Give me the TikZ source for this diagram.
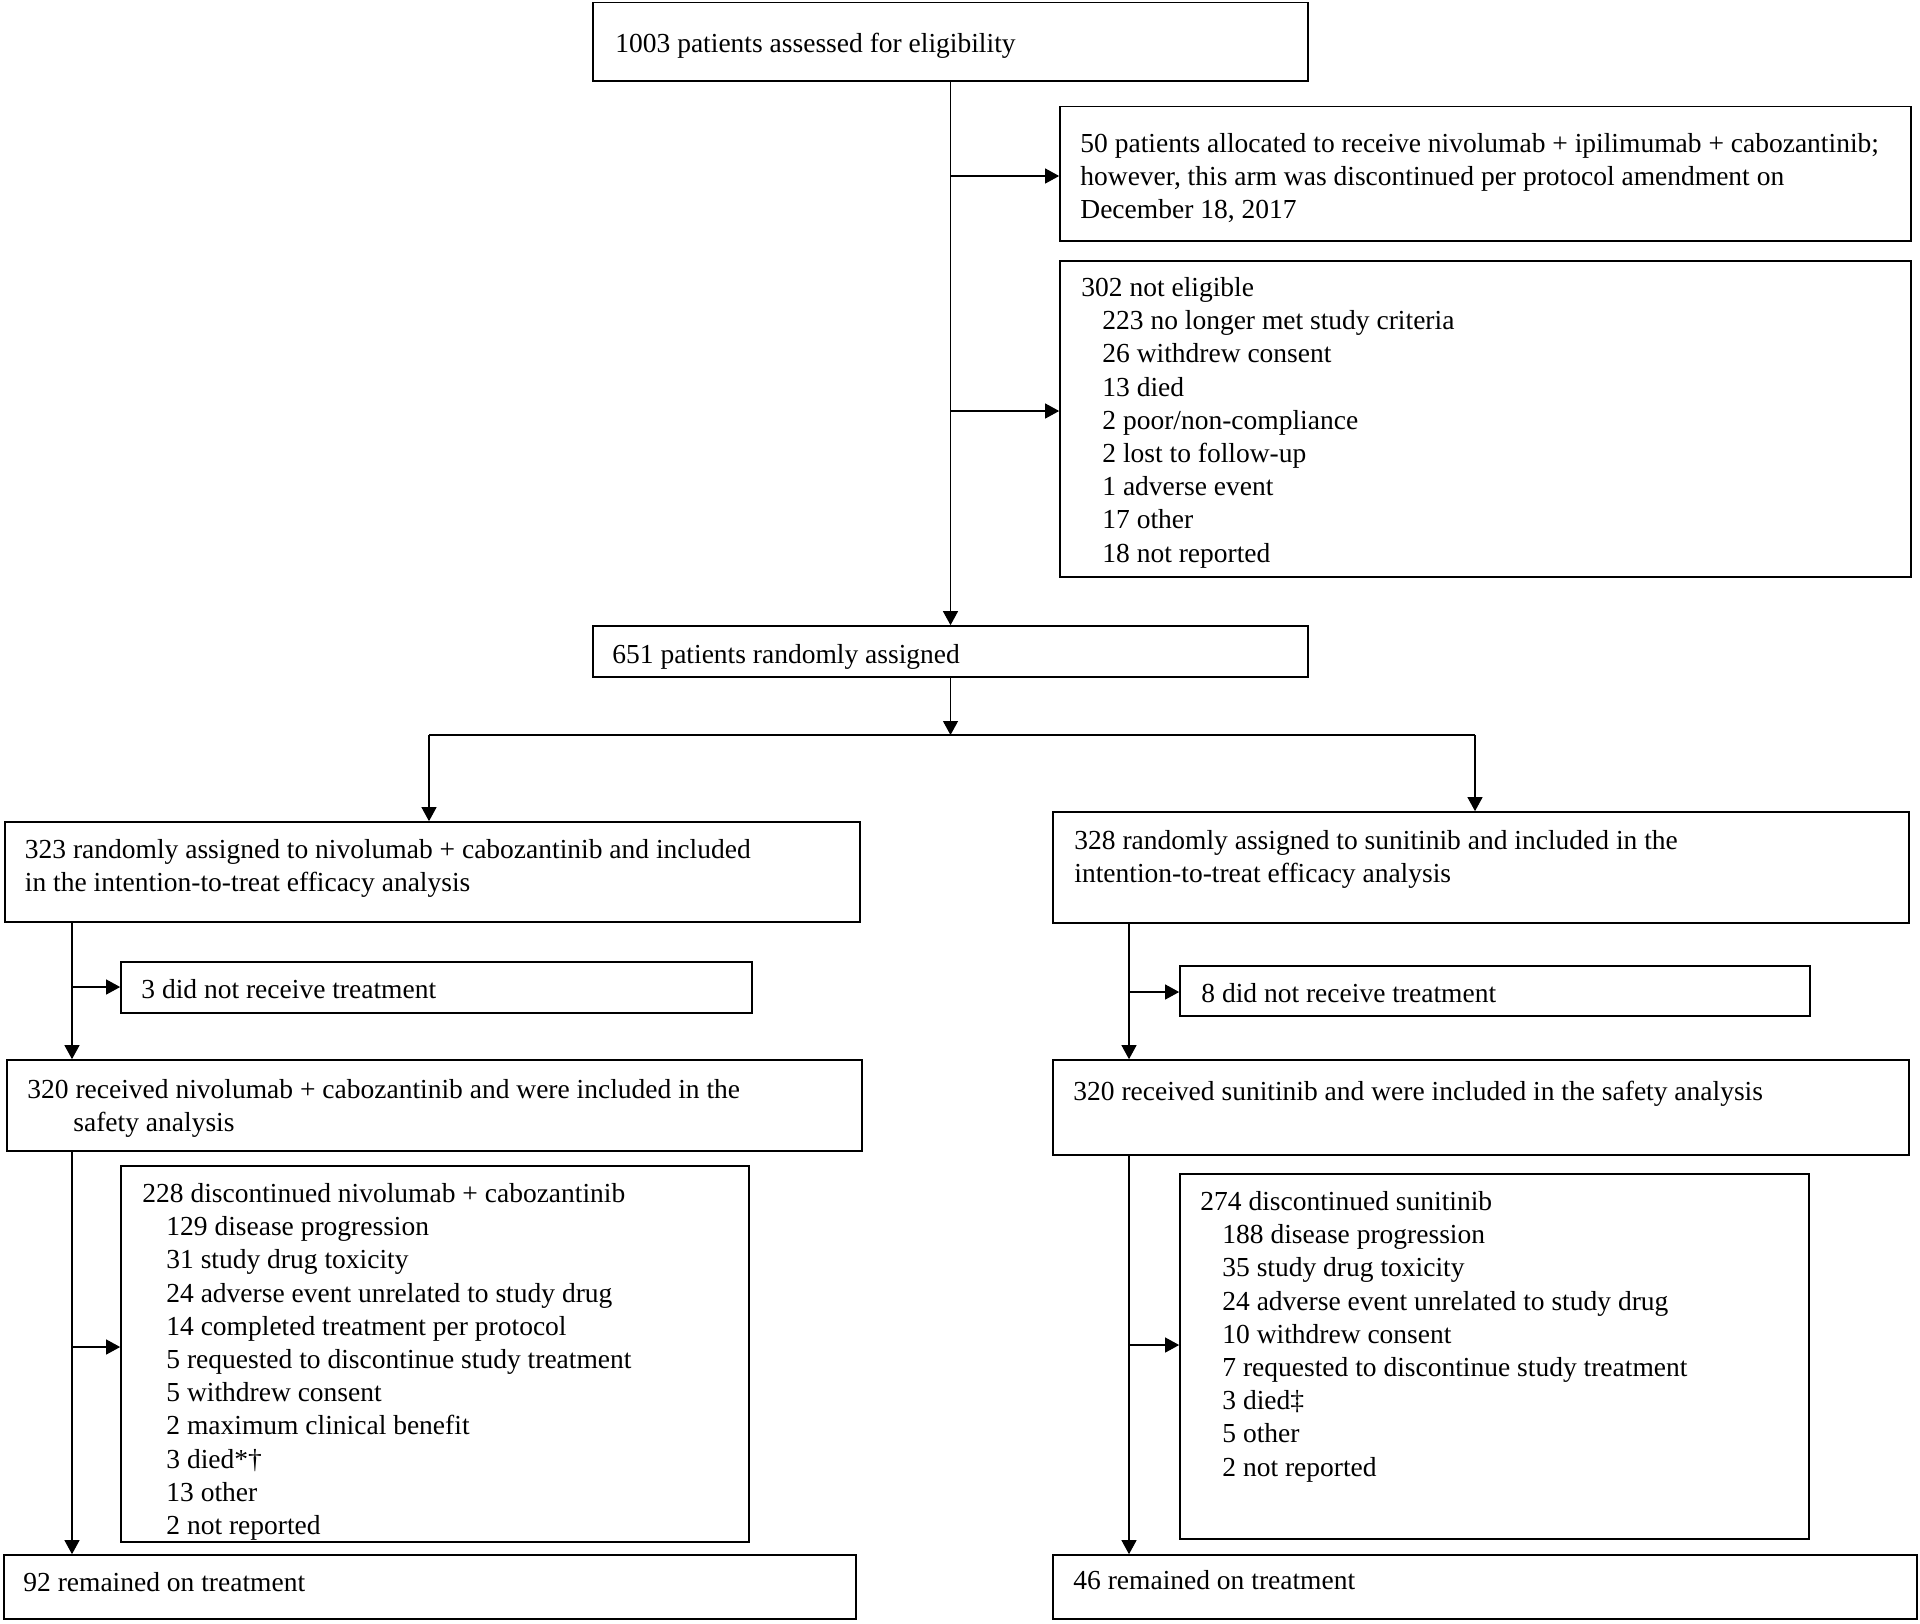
\documentclass[tikz,border=0pt]{standalone}
\usepackage{fontspec}
\setmainfont{Liberation Serif}
\usetikzlibrary{arrows.meta,fit}
\begin{document}
\begin{tikzpicture}[x=0.5pt,y=-0.5pt,
 box/.style={draw, line width=0.85pt, inner sep=0pt},
 txt/.style={inner sep=0pt, align=left, anchor=north west, font=\fontsize{13.75}{16.6}\selectfont},
 conn/.style={line width=0.55pt},
 arr/.style={conn, -{Triangle[width=7.5pt,length=7pt]}}]
\useasboundingbox (0,0) rectangle (1920,1623);

% boxes
\node[box, fit={(593,2.5) (1308,81)}] (tb) {};
\node[box, fit={(1060,106.5) (1911,241)}] (b50) {};
\node[box, fit={(1060,261) (1911,577)}] (b302) {};
\node[box, fit={(593,626) (1308,677)}] (b651) {};
\node[box, fit={(5,822) (860,922)}] (l323) {};
\node[box, fit={(1053,812) (1909,923)}] (r328) {};
\node[box, fit={(121,962) (752,1013)}] (l3) {};
\node[box, fit={(1180,966) (1810,1016)}] (r8) {};
\node[box, fit={(7,1060) (862,1151)}] (l320) {};
\node[box, fit={(1053,1060) (1909,1155)}] (r320) {};
\node[box, fit={(121,1166) (749,1542)}] (l228) {};
\node[box, fit={(1180,1174) (1809,1539)}] (r274) {};
\node[box, fit={(4,1555) (856,1619)}] (l92) {};
\node[box, fit={(1053,1555) (1917,1619)}] (r46) {};

% texts
\node[txt] (tbT) at (615,28.8) {\strut 1003 patients assessed for eligibility};
\node[txt] (b50T) at (1080,128.8) {\strut 50 patients allocated to receive nivolumab + ipilimumab + cabozantinib;\\
however, this arm was discontinued per protocol amendment on\\
December 18, 2017};
\node[txt] (b302T) at (1081,272.8) {\strut 302 not eligible\\
\hspace*{10.5pt}223 no longer met study criteria\\
\hspace*{10.5pt}26 withdrew consent\\
\hspace*{10.5pt}13 died\\
\hspace*{10.5pt}2 poor/non-compliance\\
\hspace*{10.5pt}2 lost to follow-up\\
\hspace*{10.5pt}1 adverse event\\
\hspace*{10.5pt}17 other\\
\hspace*{10.5pt}18 not reported};
\node[txt] (b651T) at (612,639.8) {\strut 651 patients randomly assigned};
\node[txt] (l323T) at (24.5,834.8) {\strut 323 randomly assigned to nivolumab + cabozantinib and included\\
in the intention-to-treat efficacy analysis};
\node[txt] (r328T) at (1074,825.8) {\strut 328 randomly assigned to sunitinib and included in the\\
intention-to-treat efficacy analysis};
\node[txt] (l3T) at (141,974.8) {\strut 3 did not receive treatment};
\node[txt] (r8T) at (1201,978.8) {\strut 8 did not receive treatment};
\node[txt] (l320T) at (27,1074.8) {\strut 320 received nivolumab + cabozantinib and were included in the\\
\hspace*{23pt}safety analysis};
\node[txt] (r320T) at (1073,1076.8) {\strut 320 received sunitinib and were included in the safety analysis};
\node[txt] (l228T) at (142,1178.8) {\strut 228 discontinued nivolumab + cabozantinib\\
\hspace*{12pt}129 disease progression\\
\hspace*{12pt}31 study drug toxicity\\
\hspace*{12pt}24 adverse event unrelated to study drug\\
\hspace*{12pt}14 completed treatment per protocol\\
\hspace*{12pt}5 requested to discontinue study treatment\\
\hspace*{12pt}5 withdrew consent\\
\hspace*{12pt}2 maximum clinical benefit\\
\hspace*{12pt}3 died*†\\
\hspace*{12pt}13 other\\
\hspace*{12pt}2 not reported};
\node[txt] (r274T) at (1200,1186.8) {\strut 274 discontinued sunitinib\\
\hspace*{11pt}188 disease progression\\
\hspace*{11pt}35 study drug toxicity\\
\hspace*{11pt}24 adverse event unrelated to study drug\\
\hspace*{11pt}10 withdrew consent\\
\hspace*{11pt}7 requested to discontinue study treatment\\
\hspace*{11pt}3 died‡\\
\hspace*{11pt}5 other\\
\hspace*{11pt}2 not reported};
\node[txt] (l92T) at (23,1567.8) {\strut 92 remained on treatment};
\node[txt] (r46T) at (1073,1565.8) {\strut 46 remained on treatment};

% connectors
\draw[arr] (tb) -- (b651);
\coordinate (j1) at (950.5,176);
\coordinate (j2) at (950.5,411);
\draw[arr] (j1) -- (j1 -| b50.west);
\draw[arr] (j2) -- (j2 -| b302.west);

\coordinate (split) at (950.5,735);
\coordinate (sl) at (429,735);
\coordinate (sr) at (1475,735);
\draw[arr] (b651) -- (split);
\draw[conn] (sl) -- (sr);
\draw[arr] (sl) -- (sl |- l323.north);
\draw[arr] (sr) -- (sr |- r328.north);

\coordinate (lv) at (72,0);
\coordinate (rv) at (1129,0);
\draw[arr] (l323.south -| lv) -- (l320.north -| lv);
\coordinate (lb1) at (72,987);
\draw[arr] (lb1) -- (lb1 -| l3.west);
\draw[arr] (l320.south -| lv) -- (l92.north -| lv);
\coordinate (lb2) at (72,1347);
\draw[arr] (lb2) -- (lb2 -| l228.west);

\draw[arr] (r328.south -| rv) -- (r320.north -| rv);
\coordinate (rb1) at (1129,992);
\draw[arr] (rb1) -- (rb1 -| r8.west);
\draw[arr] (r320.south -| rv) -- (r46.north -| rv);
\coordinate (rb2) at (1129,1345);
\draw[arr] (rb2) -- (rb2 -| r274.west);
\end{tikzpicture}
\end{document}
